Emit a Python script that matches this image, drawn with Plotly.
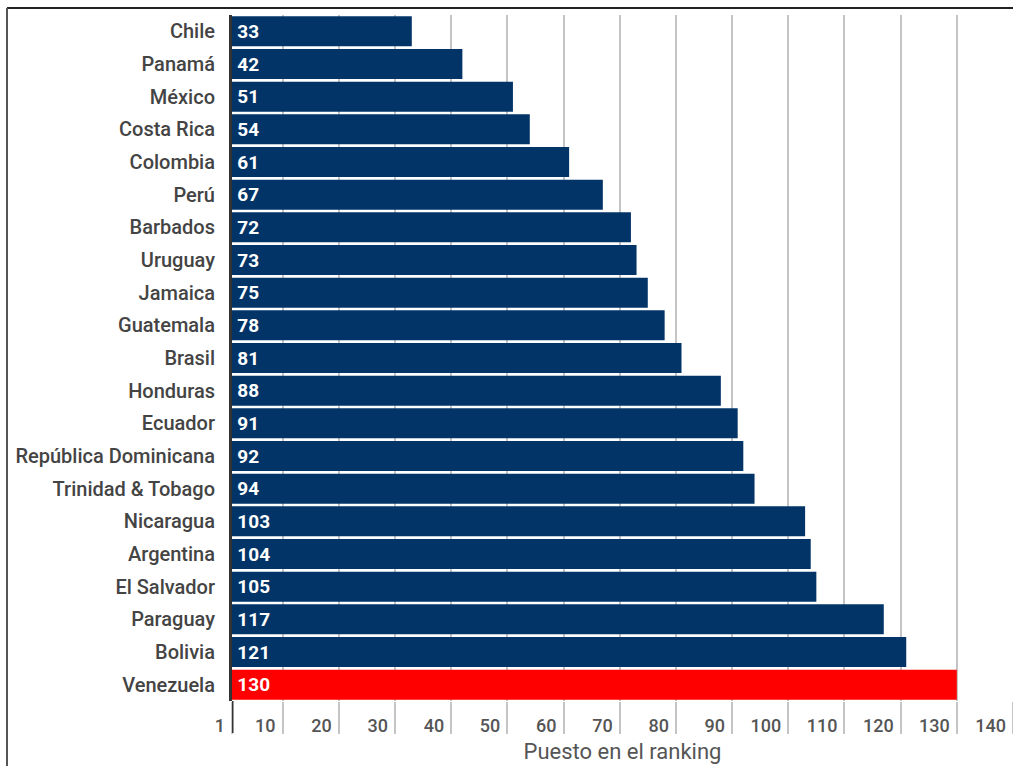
import plotly.graph_objects as go

countries = ["Chile", "Panamá", "México", "Costa Rica", "Colombia", "Perú", "Barbados",
             "Uruguay", "Jamaica", "Guatemala", "Brasil", "Honduras", "Ecuador",
             "República Dominicana", "Trinidad & Tobago", "Nicaragua", "Argentina",
             "El Salvador", "Paraguay", "Bolivia", "Venezuela"]
ranks = [33, 42, 51, 54, 61, 67, 72, 73, 75, 78, 81, 88, 91, 92, 94, 103, 104, 105, 117, 121, 130]
highlight = "Venezuela"
tick_values = [1, 10, 20, 30, 40, 50, 60, 70, 80, 90, 100, 110, 120, 130, 140]
x_title = "Puesto en el ranking"

NAVY = "#023468"
RED = "#FF0000"
colors = [RED if c == highlight else NAVY for c in countries]

fig = go.Figure(go.Bar(
    x=ranks, y=countries, orientation="h",
    marker=dict(color=colors, line=dict(width=0)),
    text=["\u00a0\u2006" + str(r) for r in ranks], textposition="inside", insidetextanchor="start",
    textfont=dict(family="Roboto", size=19, color="white", weight="bold"),
    textangle=0, cliponaxis=False, hoverinfo="skip",
))

fig.update_layout(
    width=1013, height=766,
    margin=dict(l=232, r=0, t=15, b=65),
    paper_bgcolor="white", plot_bgcolor="white",
    bargap=0.08, showlegend=False,
    font=dict(family="Roboto", color="#444"),
)
fig.update_xaxes(
    range=[1, 140], tickvals=tick_values, ticktext=[str(v) for v in tick_values],
    showgrid=True, gridcolor="#c4c4c4", gridwidth=2,
    ticks="outside", ticklen=32, tickcolor="#c4c4c4", tickwidth=2,
    ticklabelposition="outside left", ticklabelstandoff=8, ticklabelshift=-6,
    tickfont=dict(family="Roboto", size=18, color="#555", weight=500),
    showline=False, zeroline=False,
    title=dict(text=x_title, font=dict(family="Roboto", size=22, color="#555"), standoff=9),
)
fig.update_yaxes(
    autorange="reversed", showgrid=False, showline=True, linecolor="#333", linewidth=3,
    ticks="", ticklabelstandoff=10,
    tickfont=dict(family="Roboto", size=20, color="#444", weight=500),
)

# axis line extension beside x tick labels
fig.add_shape(type="line", xref="x", yref="paper", x0=1, x1=1, y0=0, y1=-32 / 686,
              line=dict(color="#333", width=3), layer="above")
# outer frame (partially visible)
fig.add_shape(type="line", xref="paper", yref="paper", x0=-225 / 781, x1=1.05, y0=1.0102, y1=1.0102,
              line=dict(color="#222", width=2), layer="above")
fig.add_shape(type="line", xref="paper", yref="paper", x0=-225 / 781, x1=-225 / 781, y0=1.0102, y1=-0.2,
              line=dict(color="#555", width=2), layer="above")

fig.write_html("out.html")
